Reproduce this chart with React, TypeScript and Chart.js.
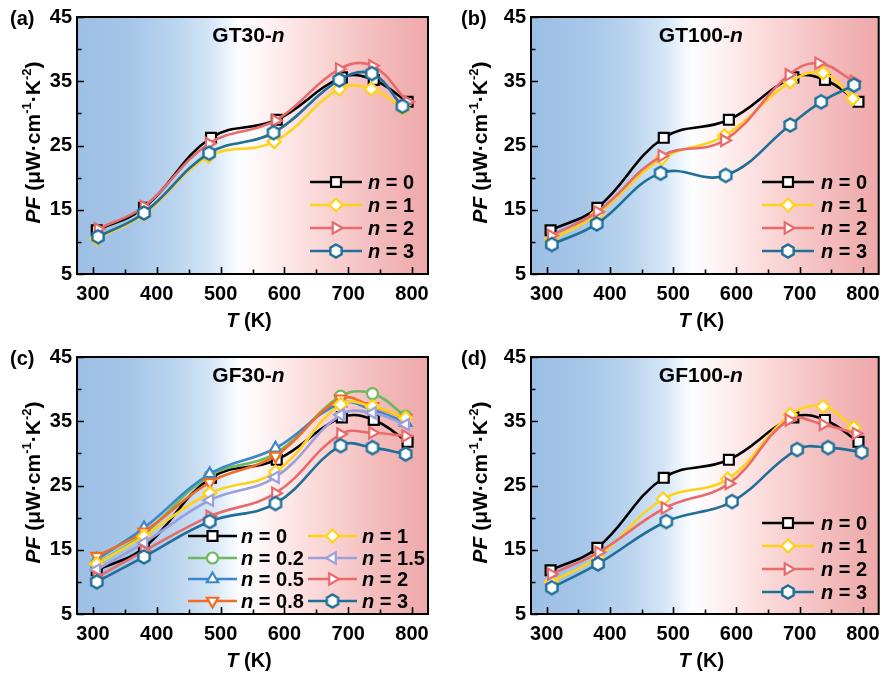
import React, { useEffect, useRef } from 'react';
import { Chart, registerables } from 'chart.js';
import { drawPoint } from 'chart.js/helpers';
Chart.register(...registerables);

// ---------- data ----------
const xTicks = [300, 400, 500, 600, 700, 800];
const xMinor = [350, 450, 550, 650, 750];
const yTicks = [5, 15, 25, 35, 45];
const yMinor = [10, 20, 30, 40];

const T_n0 = [306, 380, 485, 588, 690, 740, 793];
const PF_n0 = [11.8, 15.3, 26.2, 29.0, 35.6, 35.2, 31.8];

// (a) GT30-n
const T_a1 = [306, 380, 481, 584, 686, 736, 786];
const PF_a1 = [10.5, 14.3, 23.3, 25.6, 33.8, 33.8, 30.8];
const T_a2 = [308, 380, 482, 586, 686, 738, 793];
const PF_a2 = [12.0, 15.5, 25.3, 28.9, 36.9, 37.4, 31.8];
const T_a3 = [308, 380, 482, 583, 686, 737, 785];
const PF_a3 = [10.8, 14.5, 23.8, 27.0, 35.2, 36.2, 31.1];

// (b) GT100-n
const T_b1 = [307, 380, 482, 581, 685, 737, 784];
const PF_b1 = [10.3, 14.3, 23.0, 26.5, 34.9, 36.3, 32.3];
const T_b2 = [307, 380, 482, 581, 683, 730, 786];
const PF_b2 = [11.0, 14.7, 23.4, 25.8, 36.0, 37.8, 35.0];
const T_b3 = [308, 379, 480, 583, 685, 734, 786];
const PF_b3 = [9.6, 12.8, 20.7, 20.35, 28.2, 31.8, 34.4];

// (c) GF30-n
const T_c = [306, 380, 483, 586, 688, 738, 790];
const PF_c02 = [12.8, 17.5, 26.5, 30.0, 38.9, 39.3, 35.8];
const PF_c05 = [13.5, 18.4, 26.8, 30.8, 37.8, 36.8, 34.8];
const PF_c08 = [14.0, 17.8, 25.5, 29.6, 38.5, 37.3, 35.5];
const PF_c1 = [12.8, 17.1, 23.8, 27.1, 37.6, 37.3, 35.5];
const PF_c15 = [11.9, 16.1, 22.7, 26.3, 36.0, 36.3, 34.5];
const PF_c2 = [10.7, 14.8, 20.2, 23.8, 33.0, 33.2, 32.7];
const PF_c3 = [10.0, 13.9, 19.4, 22.2, 31.2, 30.9, 29.9];

// (d) GF100-n
const T_d1 = [307, 380, 484, 586, 685, 737, 786];
const PF_d1 = [10.0, 13.8, 22.9, 26.0, 36.0, 37.3, 34.0];
const T_d2 = [307, 382, 487, 588, 683, 737, 789];
const PF_d2 = [11.2, 14.6, 21.5, 25.3, 35.2, 34.5, 33.1];
const T_d3 = [308, 381, 489, 593, 696, 745, 798];
const PF_d3 = [9.1, 12.8, 19.4, 22.5, 30.6, 30.9, 30.2];

// ---------- styles ----------
const C_BLACK = '#000000';
const C_YELLOW = '#ffd21a';
const C_RED = '#e96a6b';
const C_TEAL = '#1f6f99';
const C_GREEN = '#6fb85e';
const C_BLUE = '#3b87c9';
const C_ORANGE = '#f26d22';
const C_LAV = '#9b9fdc';

type Series = { n: string; t: number[]; v: number[]; color: string; style: string; rot?: number; r?: number };

const S0 = (): Series => ({ n: '0', t: T_n0, v: PF_n0, color: C_BLACK, style: 'rect', r: 7 });

type PanelDef = {
  id: string; title: string; left: number; top: number; w: number; h: number;
  yW: number; rightPad: number; padTop: number; xH: number;
  series: Series[];
  legend: { cols: { lx0: number; lx1: number; tx: number; rows: number[]; idx: number[] }[] };
  yTitleX: number;
};

const rows4 = [182, 205, 228, 251];

const panels: PanelDef[] = [
  {
    id: '(a)', title: 'GT30-', left: 0, top: 0, w: 444, h: 340, yW: 77, rightPad: 16, padTop: 13, xH: 66, yTitleX: 40,
    series: [
      S0(),
      { n: '1', t: T_a1, v: PF_a1, color: C_YELLOW, style: 'rectRot', r: 6.5 },
      { n: '2', t: T_a2, v: PF_a2, color: C_RED, style: 'triangle', rot: 90, r: 6.5 },
      { n: '3', t: T_a3, v: PF_a3, color: C_TEAL, style: 'hex' },
    ],
    legend: { cols: [{ lx0: 310, lx1: 362, tx: 368, rows: rows4, idx: [0, 1, 2, 3] }] },
  },
  {
    id: '(b)', title: 'GT100-', left: 444, top: 0, w: 444, h: 340, yW: 87, rightPad: 6, padTop: 13, xH: 66, yTitleX: 43,
    series: [
      S0(),
      { n: '1', t: T_b1, v: PF_b1, color: C_YELLOW, style: 'rectRot', r: 6.5 },
      { n: '2', t: T_b2, v: PF_b2, color: C_RED, style: 'triangle', rot: 90, r: 6.5 },
      { n: '3', t: T_b3, v: PF_b3, color: C_TEAL, style: 'hex' },
    ],
    legend: { cols: [{ lx0: 318, lx1: 370, tx: 377, rows: rows4, idx: [0, 1, 2, 3] }] },
  },
  {
    id: '(c)', title: 'GF30-', left: 0, top: 340, w: 444, h: 337, yW: 77, rightPad: 16, padTop: 13, xH: 63, yTitleX: 40,
    series: [
      S0(),
      { n: '0.2', t: T_c, v: PF_c02, color: C_GREEN, style: 'circle', r: 5.5 },
      { n: '0.5', t: T_c, v: PF_c05, color: C_BLUE, style: 'triangle', rot: 0, r: 6.5 },
      { n: '0.8', t: T_c, v: PF_c08, color: C_ORANGE, style: 'triangle', rot: 180, r: 6.5 },
      { n: '1', t: T_c, v: PF_c1, color: C_YELLOW, style: 'rectRot', r: 6.5 },
      { n: '1.5', t: T_c, v: PF_c15, color: C_LAV, style: 'triangle', rot: -90, r: 6.5 },
      { n: '2', t: T_c, v: PF_c2, color: C_RED, style: 'triangle', rot: 90, r: 6.5 },
      { n: '3', t: T_c, v: PF_c3, color: C_TEAL, style: 'hex' },
    ],
    legend: {
      cols: [
        { lx0: 188, lx1: 237, tx: 241, rows: [196, 218, 239, 261], idx: [0, 1, 2, 3] },
        { lx0: 308, lx1: 357, tx: 362, rows: [196, 218, 239, 261], idx: [4, 5, 6, 7] },
      ],
    },
  },
  {
    id: '(d)', title: 'GF100-', left: 444, top: 340, w: 444, h: 337, yW: 87, rightPad: 6, padTop: 13, xH: 63, yTitleX: 43,
    series: [
      S0(),
      { n: '1', t: T_d1, v: PF_d1, color: C_YELLOW, style: 'rectRot', r: 6.5 },
      { n: '2', t: T_d2, v: PF_d2, color: C_RED, style: 'triangle', rot: 90, r: 6.5 },
      { n: '3', t: T_d3, v: PF_d3, color: C_TEAL, style: 'hex' },
    ],
    legend: { cols: [{ lx0: 318, lx1: 370, tx: 377, rows: [183, 206, 229, 252], idx: [0, 1, 2, 3] }] },
  },
];

const FONT = '"Liberation Sans", Arial, sans-serif';

type Seg = { t: string; it?: boolean; sup?: boolean };
function drawRich(ctx: CanvasRenderingContext2D, segs: Seg[], x: number, y: number, size: number, align: 'left' | 'center') {
  const fontOf = (s: Seg) => `${s.it ? 'italic ' : ''}bold ${s.sup ? Math.round(size * 0.62) : size}px ${FONT}`;
  let w = 0;
  for (const s of segs) { ctx.font = fontOf(s); w += ctx.measureText(s.t).width; }
  let cx = align === 'center' ? x - w / 2 : x;
  ctx.textAlign = 'left';
  ctx.textBaseline = 'alphabetic';
  for (const s of segs) {
    ctx.font = fontOf(s);
    ctx.fillText(s.t, cx, s.sup ? y - size * 0.42 : y);
    cx += ctx.measureText(s.t).width;
  }
}

function makeHex(color: string) {
  const r = 6.5, lw = 2.4;
  const size = Math.ceil(2 * (r + lw)) + 2;
  const c = document.createElement('canvas');
  c.width = size; c.height = size;
  const g = c.getContext('2d')!;
  g.beginPath();
  for (let k = 0; k < 6; k++) {
    const a = -Math.PI / 2 + k * Math.PI / 3;
    const px = size / 2 + r * Math.cos(a), py = size / 2 + r * Math.sin(a);
    if (k === 0) g.moveTo(px, py); else g.lineTo(px, py);
  }
  g.closePath();
  g.fillStyle = '#fff';
  g.fill();
  g.lineWidth = lw;
  g.strokeStyle = color;
  g.stroke();
  return c;
}

function Panel({ p }: { p: PanelDef }) {
  const ref = useRef<HTMLCanvasElement | null>(null);
  useEffect(() => {
    const canvas = ref.current!;
    const N = p.series.length;
    const styles = p.series.map((s) => (s.style === 'hex' ? makeHex(s.color) : s.style));

    const bgPlugin = {
      id: 'bg',
      beforeDatasetsDraw(chart: any) {
        const { ctx, chartArea: a } = chart;
        const g = ctx.createLinearGradient(a.left, 0, a.right, 0);
        g.addColorStop(0, '#9dbfe4');
        g.addColorStop(0.15, '#a6c6e8');
        g.addColorStop(0.28, '#bad4ee');
        g.addColorStop(0.38, '#d3e5f6');
        g.addColorStop(0.46, '#fbfdff');
        g.addColorStop(0.52, '#fff6f6');
        g.addColorStop(0.68, '#fbd9d9');
        g.addColorStop(0.86, '#f3bbbc');
        g.addColorStop(1, '#eea8aa');
        ctx.save();
        ctx.fillStyle = g;
        ctx.fillRect(a.left, a.top, a.right - a.left, a.bottom - a.top);
        ctx.restore();
      },
    };

    const decoPlugin = {
      id: 'deco',
      afterDraw(chart: any) {
        const { ctx, chartArea: a } = chart;
        const xs = chart.scales.x, ys = chart.scales.y;
        ctx.save();
        ctx.strokeStyle = '#000';
        ctx.lineWidth = 2;
        ctx.strokeRect(a.left, a.top, a.right - a.left, a.bottom - a.top);
        ctx.lineWidth = 1.6;
        ctx.beginPath();
        for (const v of xTicks) { const px = Math.round(xs.getPixelForValue(v)) + 0.5; ctx.moveTo(px, a.bottom); ctx.lineTo(px, a.bottom - 7); }
        for (const v of xMinor) { const px = Math.round(xs.getPixelForValue(v)) + 0.5; ctx.moveTo(px, a.bottom); ctx.lineTo(px, a.bottom - 4.5); }
        for (const v of yTicks) { const py = Math.round(ys.getPixelForValue(v)) + 0.5; ctx.moveTo(a.left, py); ctx.lineTo(a.left + 7, py); }
        for (const v of yMinor) { const py = Math.round(ys.getPixelForValue(v)) + 0.5; ctx.moveTo(a.left, py); ctx.lineTo(a.left + 4.5, py); }
        ctx.stroke();

        ctx.fillStyle = '#000';
        const cxArea = (a.left + a.right) / 2;
        // panel label
        drawRich(ctx, [{ t: p.id }], p.yW === 77 ? 10 : 17, 25, 20, 'left');
        // title
        drawRich(ctx, [{ t: p.title }, { t: 'n', it: true }], cxArea - 4, 42, 21, 'center');
        // x title
        drawRich(ctx, [{ t: 'T', it: true }, { t: ' (K)' }], cxArea - 3.5, 327, 20, 'center');
        // y title
        ctx.save();
        ctx.translate(p.yTitleX, (a.top + a.bottom) / 2 - 3);
        ctx.rotate(-Math.PI / 2);
        drawRich(ctx, [
          { t: 'PF', it: true }, { t: ' (\u03bcW\u00b7cm' }, { t: '-1', sup: true }, { t: '\u00b7K' }, { t: '-2', sup: true }, { t: ')' },
        ], 0, 0, 21, 'center');
        ctx.restore();

        // legend
        for (const col of p.legend.cols) {
          col.idx.forEach((si, k) => {
            const s = p.series[si];
            const y = col.rows[k];
            ctx.strokeStyle = s.color;
            ctx.lineWidth = 2.6;
            ctx.beginPath();
            ctx.moveTo(col.lx0, y);
            ctx.lineTo(col.lx1, y);
            ctx.stroke();
            ctx.fillStyle = '#fff';
            ctx.strokeStyle = s.color;
            ctx.lineWidth = 2.2;
            drawPoint(ctx, { pointStyle: styles[si] as any, rotation: s.rot || 0, radius: s.r || 6, borderWidth: 2.2 } as any, (col.lx0 + col.lx1) / 2, y);
            ctx.fillStyle = '#000';
            drawRich(ctx, [{ t: 'n', it: true }, { t: ' = ' + s.n }], col.tx, y + 7, 20, 'left');
          });
        }
        ctx.restore();
      },
    };

    const chart = new Chart(canvas, {
      type: 'line',
      data: {
        datasets: p.series.map((s, i) => ({
          label: 'n = ' + s.n,
          data: s.t.map((t, j) => ({ x: t, y: s.v[j] })),
          borderColor: s.color,
          backgroundColor: '#fff',
          borderWidth: 2.6,
          tension: 0.4,
          fill: false,
          pointStyle: styles[i] as any,
          pointRotation: s.rot || 0,
          pointRadius: s.r || 6,
          pointBorderWidth: 2.2,
          pointBackgroundColor: '#fff',
          pointBorderColor: s.color,
          order: N - i,
        })),
      },
      options: {
        responsive: false,
        animation: false,
        layout: { padding: { top: p.padTop, right: p.rightPad, left: 0, bottom: 0 } },
        plugins: { legend: { display: false }, tooltip: { enabled: false }, title: { display: false } },
        scales: {
          x: {
            type: 'linear', min: 275, max: 825,
            afterBuildTicks: (sc: any) => { sc.ticks = xTicks.map((v) => ({ value: v })); },
            afterFit: (sc: any) => { sc.height = p.xH; },
            grid: { display: false, drawTicks: false },
            border: { display: false },
            ticks: { padding: 8, color: '#000', autoSkip: false, maxRotation: 0, font: { family: FONT, size: 20, weight: 'bold' } },
          },
          y: {
            type: 'linear', min: 5, max: 45,
            afterBuildTicks: (sc: any) => { sc.ticks = yTicks.map((v) => ({ value: v })); },
            afterFit: (sc: any) => { sc.width = p.yW; },
            grid: { display: false, drawTicks: false },
            border: { display: false },
            ticks: { padding: 5, color: '#000', font: { family: FONT, size: 20, weight: 'bold' } },
          },
        },
      },
      plugins: [bgPlugin, decoPlugin],
    } as any);
    return () => chart.destroy();
  }, [p]);
  return (
    <canvas
      ref={ref}
      width={p.w}
      height={p.h}
      style={{ position: 'absolute', left: p.left, top: p.top, width: p.w, height: p.h }}
    />
  );
}

export default function App() {
  return (
    <div style={{ position: 'absolute', left: 0, top: 0, width: 888, height: 677, background: '#fff', overflow: 'hidden' }}>
      {panels.map((p) => (
        <Panel key={p.id} p={p} />
      ))}
    </div>
  );
}
